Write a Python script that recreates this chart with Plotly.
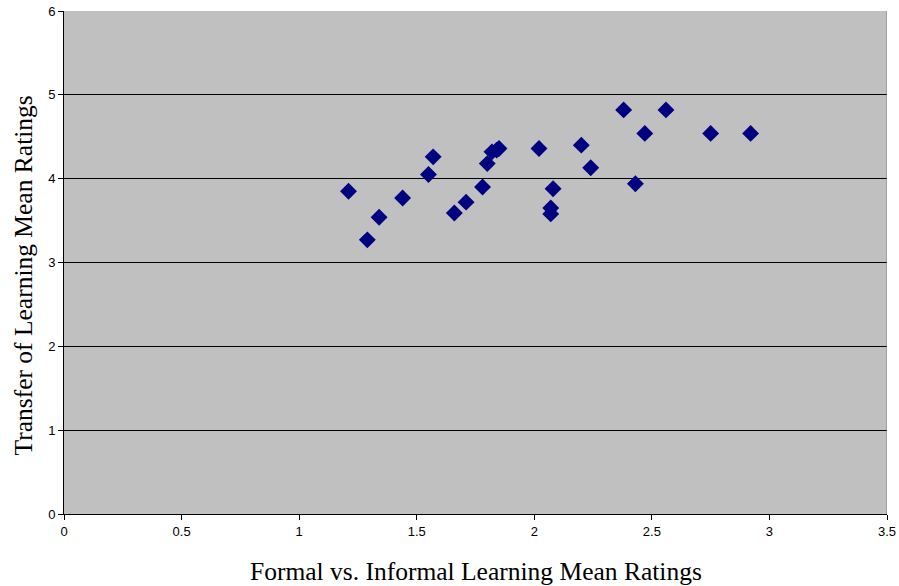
import plotly.graph_objects as go

x_formal = [1.21, 1.29, 1.34, 1.44, 1.55, 1.57, 1.66, 1.71, 1.78, 1.80, 1.82, 1.84, 1.85,
            2.02, 2.08, 2.07, 2.07, 2.20, 2.24, 2.38, 2.43, 2.47, 2.56, 2.75, 2.92]
y_transfer = [3.85, 3.27, 3.54, 3.77, 4.05, 4.26, 3.59, 3.72, 3.90, 4.18, 4.32, 4.34, 4.36,
              4.36, 3.88, 3.65, 3.58, 4.40, 4.13, 4.82, 3.94, 4.54, 4.82, 4.54, 4.54]

x_ticks = [0, 0.5, 1, 1.5, 2, 2.5, 3, 3.5]
x_tick_labels = ["0", "0.5", "1", "1.5", "2", "2.5", "3", "3.5"]
y_ticks = [0, 1, 2, 3, 4, 5, 6]

x_title = "Formal vs. Informal Learning Mean Ratings"
y_title = "Transfer of Learning Mean Ratings"
serif = "Liberation Serif, Times New Roman, serif"

fig = go.Figure()
fig.add_trace(go.Scatter(
    x=x_formal, y=y_transfer, mode="markers",
    marker=dict(symbol="diamond", size=13, color="#000080", line=dict(width=0)),
    showlegend=False,
))

fig.update_layout(
    width=899, height=586,
    margin=dict(l=64, r=12, t=11, b=72),
    paper_bgcolor="white",
    plot_bgcolor="#C0C0C0",
    font=dict(family="Liberation Sans, Arial, sans-serif", size=13, color="black"),
    xaxis=dict(
        range=[0, 3.5], tickvals=x_ticks, ticktext=x_tick_labels,
        showgrid=False, zeroline=False, automargin=False,
        showline=True, linecolor="black", linewidth=1,
        ticks="outside", ticklen=5, tickcolor="black",
    ),
    yaxis=dict(
        range=[0, 6], tickvals=y_ticks, automargin=False,
        showgrid=True, gridcolor="black", gridwidth=1, zeroline=False,
        showline=True, linecolor="black", linewidth=1,
        ticks="outside", ticklen=5, tickcolor="black",
    ),
)
fig.add_annotation(text=x_title, xref="paper", yref="paper", x=0.5, y=0,
                   yshift=-57, showarrow=False, yanchor="middle",
                   font=dict(family=serif, size=25.5))
fig.add_annotation(text=y_title, xref="paper", yref="paper", x=0, y=0.5,
                   xshift=-41, yshift=-13, showarrow=False, textangle=-90,
                   xanchor="center", yanchor="middle",
                   font=dict(family=serif, size=25.5))
fig.add_shape(type="line", xref="x", yref="paper", x0=3.5, x1=3.5, y0=0, y1=1,
              line=dict(color="#808080", width=1))

fig.write_html("out.html", config={"displayModeBar": False},
               post_script="document.body.style.margin='0';")
